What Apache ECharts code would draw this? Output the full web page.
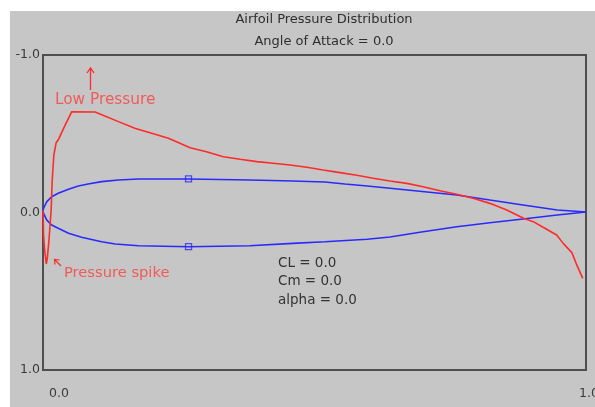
<!DOCTYPE html>
<html>
<head>
<meta charset="utf-8">
<script src="https://cdn.jsdelivr.net/npm/echarts@6/dist/echarts.min.js"></script>
<style>
html,body{margin:0;padding:0;background:#ffffff;}
#chart{width:595px;height:407px;}
</style>
</head>
<body>
<div id="chart"></div>
<script>
// Axis ticks
const xTicks = [0, 1];
const yTicks = [-1, 0, 1];

// Airfoil upper surface [x/c, y]
const upperSurface = [
  [0.000,-0.010],[0.001,-0.027],[0.007,-0.069],[0.016,-0.100],[0.028,-0.122],[0.047,-0.147],
  [0.065,-0.168],[0.083,-0.181],[0.108,-0.196],[0.139,-0.206],[0.176,-0.213],[0.268,-0.213],
  [0.381,-0.206],[0.460,-0.200],[0.519,-0.194],[0.556,-0.181],[0.597,-0.168],[0.639,-0.154],
  [0.762,-0.111],[0.823,-0.079],[0.884,-0.048],[0.947,-0.016],[1.000,-0.003]
];
// Airfoil lower surface [x/c, y]
const lowerSurface = [
  [0.000,-0.010],[0.001,0.005],[0.007,0.048],[0.016,0.079],[0.028,0.100],[0.047,0.132],
  [0.071,0.157],[0.108,0.186],[0.133,0.200],[0.176,0.211],[0.268,0.217],[0.381,0.211],
  [0.460,0.196],[0.519,0.186],[0.597,0.170],[0.639,0.156],[0.700,0.122],[0.762,0.090],
  [0.823,0.065],[0.884,0.041],[0.947,0.016],[1.000,-0.003]
];
// Control point markers
const controlPoints = [[0.268,-0.213],[0.268,0.217]];
// Pressure coefficient distribution [x/c, Cp]
const pressureCp = [
  [0.000,-0.016],[0.001,0.143],[0.003,0.238],[0.006,0.327],[0.008,0.289],[0.011,0.175],
  [0.015,-0.016],[0.017,-0.206],[0.020,-0.365],[0.024,-0.441],[0.029,-0.467],[0.041,-0.556],
  [0.053,-0.640],[0.096,-0.638],[0.139,-0.577],[0.169,-0.535],[0.231,-0.471],[0.271,-0.411],
  [0.301,-0.386],[0.332,-0.354],[0.363,-0.338],[0.394,-0.323],[0.424,-0.313],[0.455,-0.302],
  [0.486,-0.287],[0.516,-0.270],[0.547,-0.253],[0.578,-0.236],[0.608,-0.217],[0.639,-0.200],
  [0.670,-0.185],[0.700,-0.164],[0.731,-0.138],[0.762,-0.116],[0.792,-0.090],[0.823,-0.058],
  [0.854,-0.016],[0.885,0.037],[0.903,0.058],[0.921,0.094],[0.946,0.143],[0.958,0.196],
  [0.974,0.255],[0.983,0.333],[0.994,0.418]
];
const titleText = 'Airfoil Pressure Distribution';
const subtitleText = 'Angle of Attack = 0.0';
const coeffLines = ['CL = 0.0', 'Cm = 0.0', 'alpha = 0.0'];

const FONT = '"DejaVu Sans", Verdana, sans-serif';
const chart = echarts.init(document.getElementById('chart'), null, {renderer:'canvas'});
const blue = '#2a2aff';
const red = '#ff2a2a';
const annot = '#f25a5a';

chart.setOption({
  animation: false,
  backgroundColor: '#ffffff',
  grid: {left: 43, right: 9, top: 55, bottom: 37, show: true, borderColor: '#4e4e4e', borderWidth: 2,
    backgroundColor: 'transparent', containLabel: false, outerBoundsMode: 'none'},
  xAxis: {
    type: 'value', min: xTicks[0], max: xTicks[xTicks.length-1], interval: 1,
    axisLine: {show: false}, axisTick: {show: false}, splitLine: {show: false},
    axisLabel: {formatter: v => v.toFixed(1), color: '#3a3a3a', fontFamily: FONT, fontSize: 12.5, margin: 17,
      alignMinLabel: 'left', alignMaxLabel: 'center', padding: [0,0,0,6], hideOverlap: false}
  },
  yAxis: {
    type: 'value', min: yTicks[0], max: yTicks[yTicks.length-1], interval: 1, inverse: true,
    axisLine: {show: false}, axisTick: {show: false}, splitLine: {show: false},
    axisLabel: {formatter: v => v.toFixed(1), color: '#3a3a3a', fontFamily: FONT, fontSize: 12.5, margin: 3,
      verticalAlign: 'middle', padding: [0,0,8,0]}
  },
  graphic: [
    {type:'rect', z:-10, silent:true, shape:{x:10, y:11, width:585, height:396}, style:{fill:'#c6c6c6'}},
    {type:'text', x:324, y:20, style:{text:titleText, font:'13px '+FONT, fill:'#2e2e2e', align:'center', verticalAlign:'middle'}},
    {type:'text', x:324, y:42, style:{text:subtitleText, font:'13px '+FONT, fill:'#2e2e2e', align:'center', verticalAlign:'middle'}},
    {type:'text', x:278, y:263, style:{text:coeffLines[0], font:'13.5px '+FONT, fill:'#333', align:'left', verticalAlign:'middle'}},
    {type:'text', x:278, y:281.5, style:{text:coeffLines[1], font:'13.5px '+FONT, fill:'#333', align:'left', verticalAlign:'middle'}},
    {type:'text', x:278, y:300, style:{text:coeffLines[2], font:'13.5px '+FONT, fill:'#333', align:'left', verticalAlign:'middle'}},
    {type:'text', x:55, y:100, style:{text:'Low Pressure', font:'15.3px '+FONT, fill:annot, align:'left', verticalAlign:'middle'}},
    {type:'line', shape:{x1:90.5, y1:90, x2:90.5, y2:69}, style:{stroke:red, lineWidth:1.3}},
    {type:'polyline', shape:{points:[[87,73],[90.5,68],[94,73]]}, style:{stroke:red, lineWidth:1.3, fill:null}},
    {type:'text', x:64, y:273, style:{text:'Pressure spike', font:'14.7px '+FONT, fill:annot, align:'left', verticalAlign:'middle'}},
    {type:'line', shape:{x1:61, y1:266, x2:55, y2:260}, style:{stroke:red, lineWidth:1.2}},
    {type:'polyline', shape:{points:[[55,264.5],[54.5,259.5],[59.5,260]]}, style:{stroke:red, lineWidth:1.2, fill:null}}
  ],
  series: [
    {type:'line', data: upperSurface, showSymbol:false, symbol:'none', lineStyle:{color:blue, width:1.6}, z:3},
    {type:'line', data: lowerSurface, showSymbol:false, symbol:'none', lineStyle:{color:blue, width:1.6}, z:3},
    {type:'scatter', data: controlPoints, symbol:'rect', symbolSize:6, itemStyle:{color:'transparent', borderColor:blue, borderWidth:1.3}, z:5},
    {type:'line', data: pressureCp, showSymbol:false, symbol:'none', lineStyle:{color:red, width:1.6}, z:4}
  ]
});
</script>
</body>
</html>
